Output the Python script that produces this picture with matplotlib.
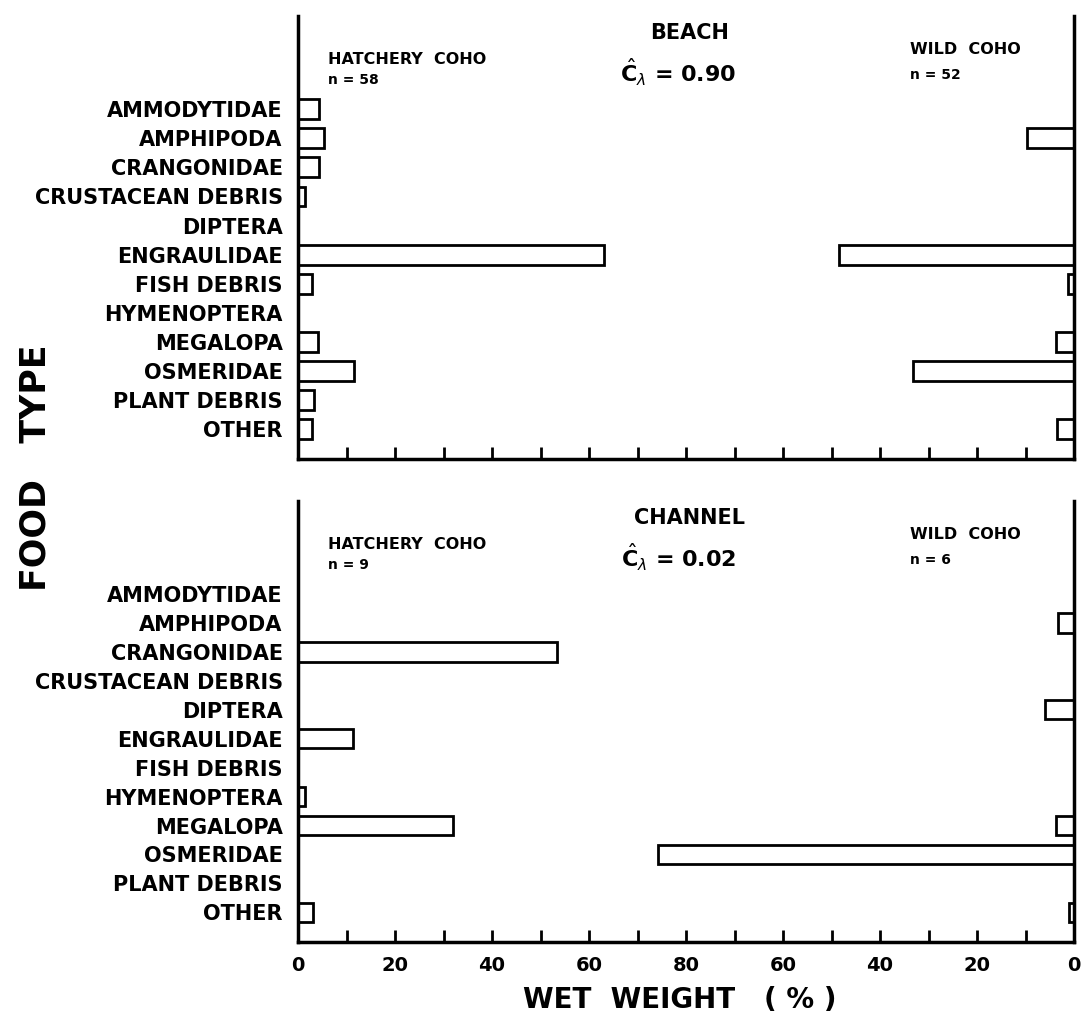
import numpy as np
import matplotlib
matplotlib.use("Agg")
import matplotlib.pyplot as plt
from matplotlib.ticker import MultipleLocator

plt.rcParams['font.family'] = ['DejaVu Sans']
plt.rcParams['mathtext.fontset'] = 'dejavusans'

# food categories, top to bottom
food_types = ['AMMODYTIDAE', 'AMPHIPODA', 'CRANGONIDAE', 'CRUSTACEAN DEBRIS',
              'DIPTERA', 'ENGRAULIDAE', 'FISH DEBRIS', 'HYMENOPTERA',
              'MEGALOPA', 'OSMERIDAE', 'PLANT DEBRIS', 'OTHER']

# wet weight (%)
beach_hatchery = [4.3, 5.4, 4.3, 1.4, 0, 63.0, 2.9, 0, 4.1, 11.5, 3.3, 2.8]
beach_wild = [0, 9.7, 0, 0, 0, 48.5, 1.3, 0, 3.7, 33.2, 0, 3.5]
channel_hatchery = [0, 0, 53.4, 0, 0, 11.4, 0, 1.4, 32.0, 0, 0, 3.1]
channel_wild = [0, 3.3, 0, 0, 6.0, 0, 0, 0, 3.7, 85.8, 0, 1.0]

panels = ['BEACH', 'CHANNEL']
c_lambda = ['0.90', '0.02']
n_hatchery = [58, 9]
n_wild = [52, 6]

x_ticks = [0, 20, 40, 60, 80, 100, 120, 140, 160]
x_tick_labels = ['0', '20', '40', '60', '80', '60', '40', '20', '0']
AXIS_MAX = 160  # hatchery 0->80 from the left, wild 0->80 from the right

W, H = 1083, 1018


def px_box(left, top, right, bottom):
    return [left / W, 1 - bottom / H, (right - left) / W, (bottom - top) / H]


def draw_panel(ax, hatch, wild, title, cl, nh, nw, show_labels):
    rows = np.arange(len(food_types))
    hatch = np.array(hatch)
    wild = np.array(wild)
    m = hatch > 0
    ax.barh(rows[m], hatch[m], height=0.68, left=0, color='white',
            edgecolor='black', linewidth=2)
    m = wild > 0
    ax.barh(rows[m], wild[m], height=0.68, left=AXIS_MAX - wild[m],
            color='white', edgecolor='black', linewidth=2)

    ax.set_xlim(0, AXIS_MAX)
    ax.set_ylim(12.02, -3.2)
    ax.set_yticks(rows)
    ax.set_yticklabels(food_types, fontsize=15, fontweight='bold')
    ax.tick_params(axis='y', length=0, pad=11)

    ax.set_xticks(x_ticks)
    ax.set_xticklabels(x_tick_labels, fontsize=14, fontweight='bold')
    ax.xaxis.set_minor_locator(MultipleLocator(10))
    ax.tick_params(axis='x', which='both', direction='in', length=9,
                   width=2, pad=10, labelbottom=show_labels)

    ax.spines['top'].set_visible(False)
    for s in ['left', 'right', 'bottom']:
        ax.spines[s].set_linewidth(2.5)

    ax.text(0.039, 0.902, 'HATCHERY  COHO', transform=ax.transAxes,
            fontsize=11.5, fontweight='bold', va='center', ha='left')
    ax.text(0.039, 0.856, 'n = %d' % nh, transform=ax.transAxes,
            fontsize=10, fontweight='bold', va='center', ha='left')
    ax.text(0.505, 0.962, title, transform=ax.transAxes,
            fontsize=15, fontweight='bold', va='center', ha='center')
    ax.text(0.49, 0.872, r'$\hat{\mathbf{C}}_{\lambda}$ = ' + cl,
            transform=ax.transAxes, fontsize=16, fontweight='bold',
            va='center', ha='center')
    ax.text(0.789, 0.925, 'WILD  COHO', transform=ax.transAxes,
            fontsize=11.5, fontweight='bold', va='center', ha='left')
    ax.text(0.789, 0.866, 'n = %d' % nw, transform=ax.transAxes,
            fontsize=10, fontweight='bold', va='center', ha='left')


fig = plt.figure(figsize=(W / 100, H / 100), dpi=100)
ax_top = fig.add_axes(px_box(298, 16, 1074, 459))
ax_bot = fig.add_axes(px_box(298, 501, 1074, 942))

draw_panel(ax_top, beach_hatchery, beach_wild, panels[0], c_lambda[0],
           n_hatchery[0], n_wild[0], False)
draw_panel(ax_bot, channel_hatchery, channel_wild, panels[1], c_lambda[1],
           n_hatchery[1], n_wild[1], True)

fig.text(36 / W, 1 - 468 / H, 'FOOD   TYPE', rotation=90, fontsize=25,
         fontweight='bold', ha='center', va='center')
fig.text(680 / W, 1 - 1000 / H, 'WET  WEIGHT   ( % )', fontsize=20,
         fontweight='bold', ha='center', va='center')

fig.savefig('out.png', dpi=100, facecolor='white')
